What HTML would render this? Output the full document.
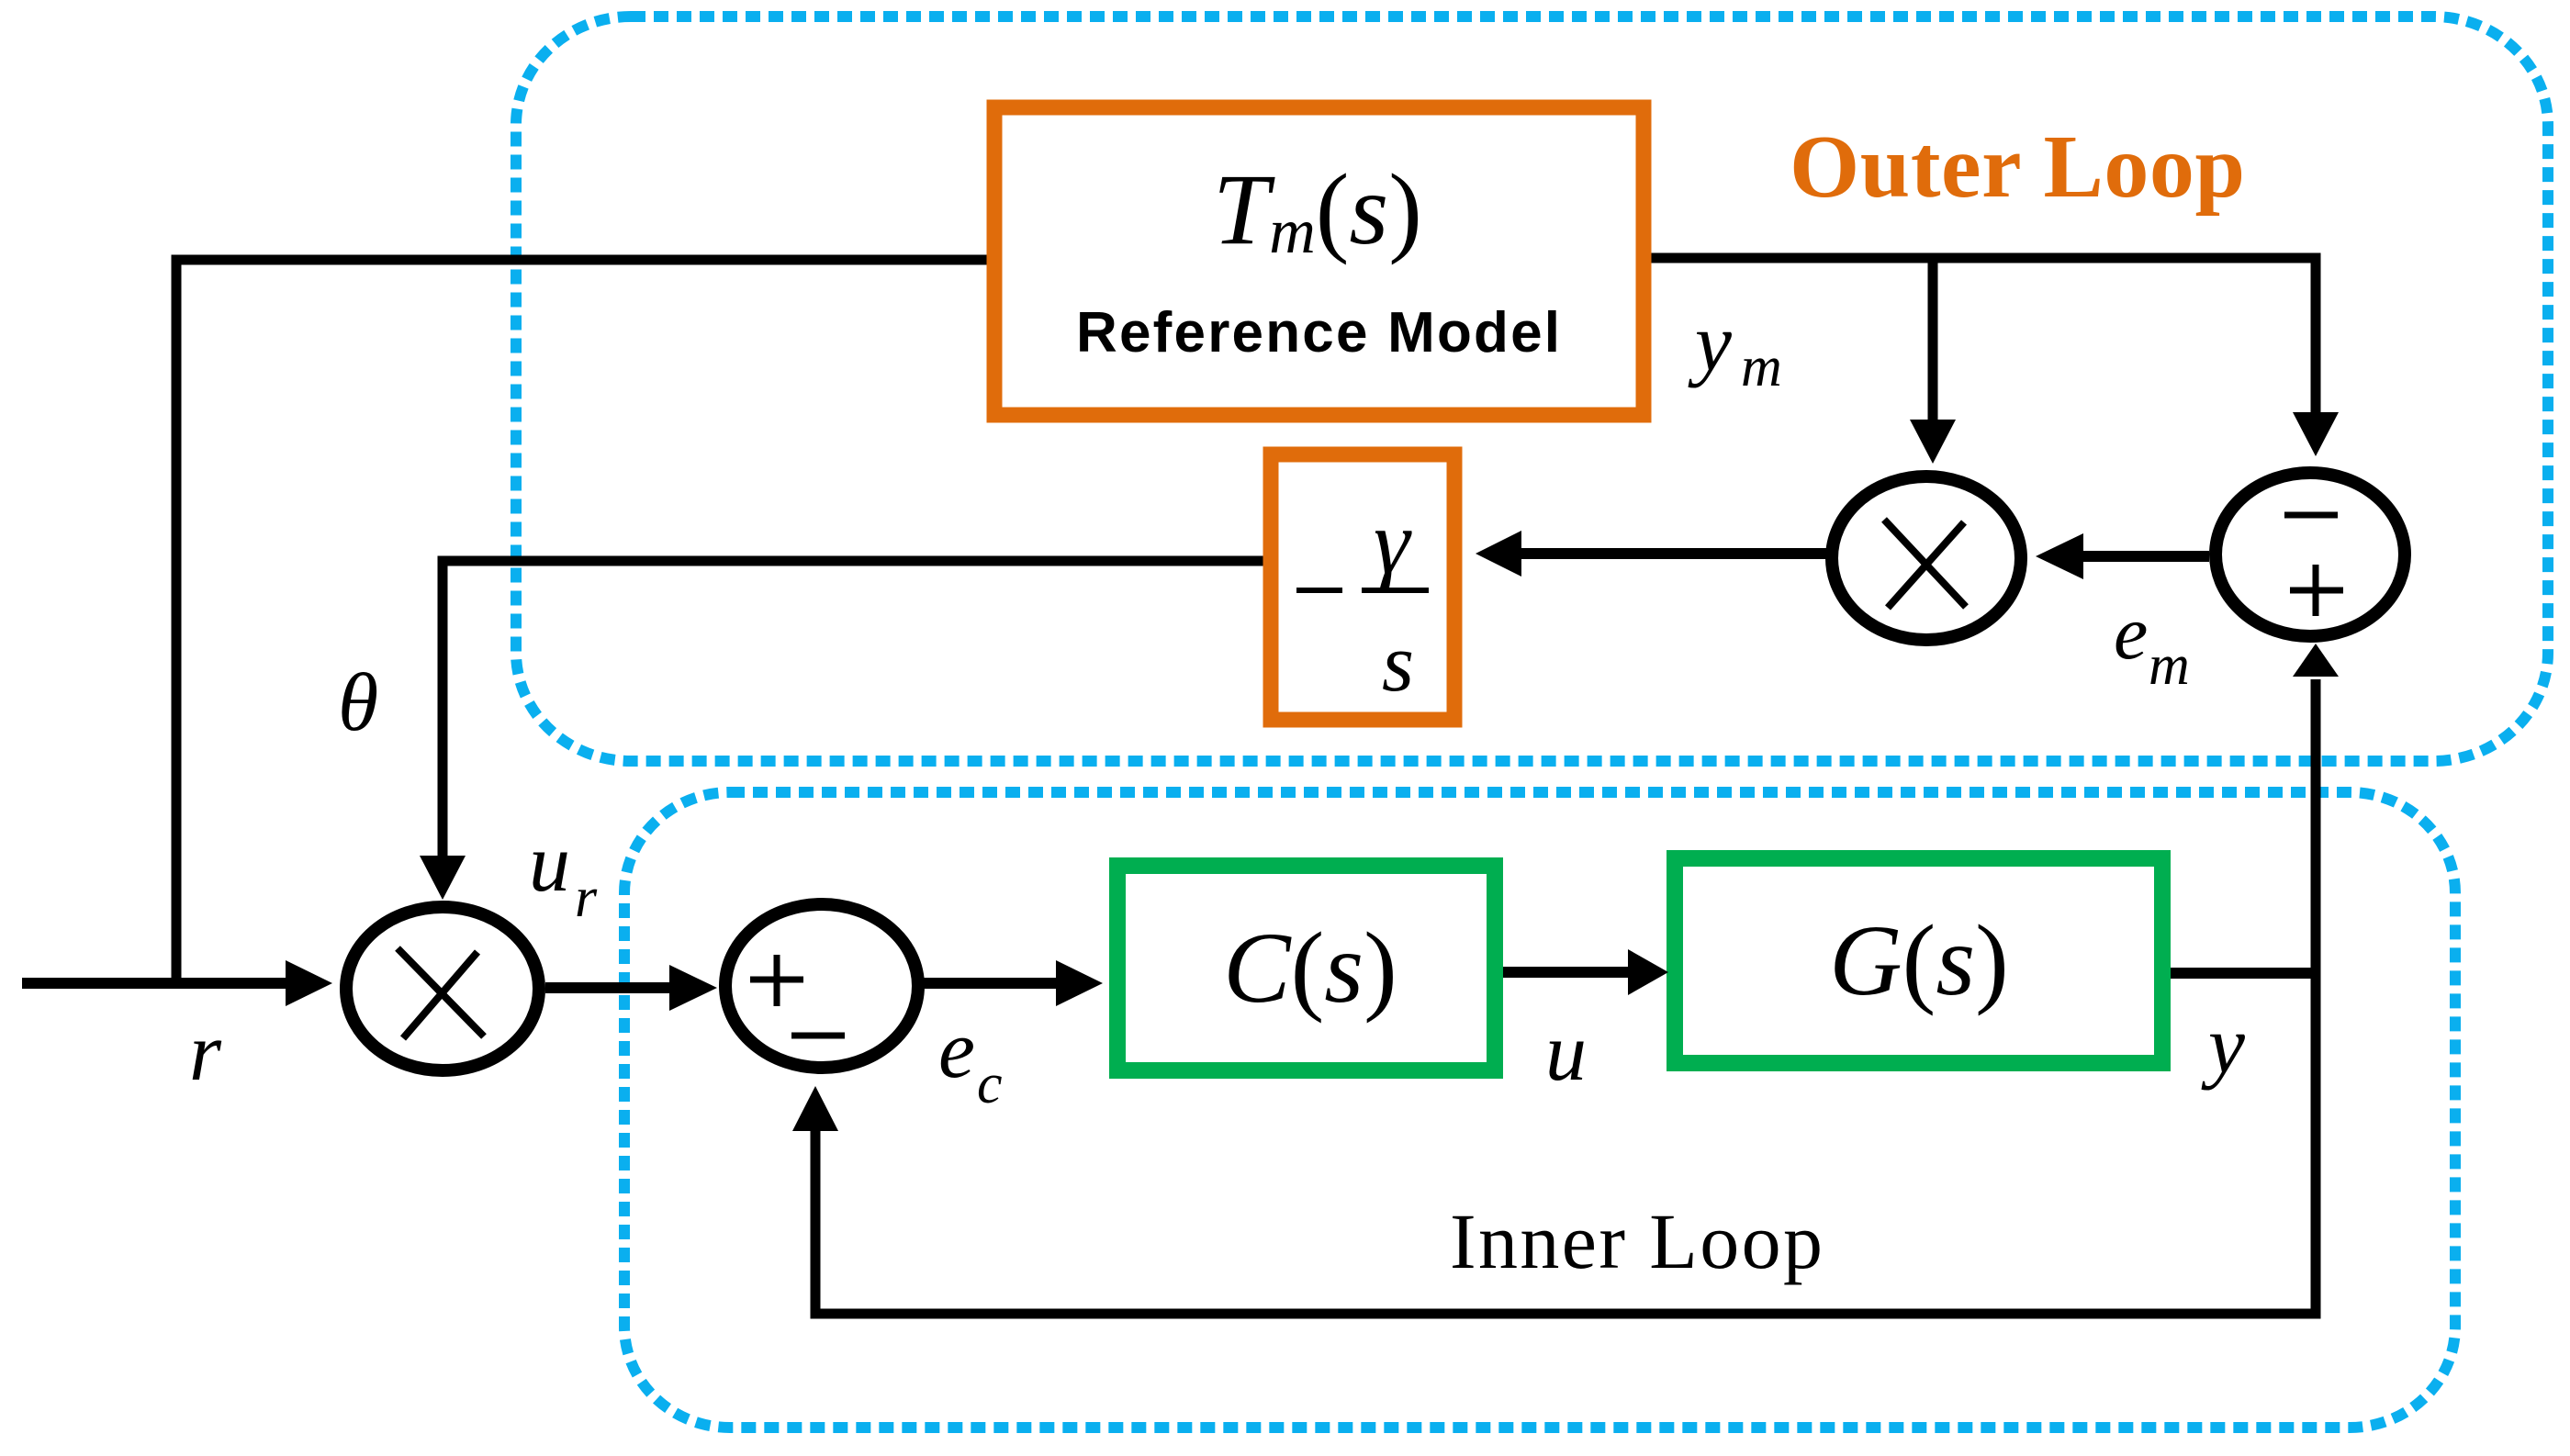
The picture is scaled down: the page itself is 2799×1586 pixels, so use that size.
<!DOCTYPE html>
<html><head><meta charset="utf-8"><style>
html,body{margin:0;padding:0;background:#fff;}
svg{display:block;}
.m{font-family:"Liberation Serif",serif;font-style:italic;fill:#000;}
.n{font-family:"Liberation Serif",serif;fill:#000;}
</style></head><body>
<svg width="2799" height="1586" viewBox="0 0 2799 1586" xmlns="http://www.w3.org/2000/svg">
<rect x="562" y="18" width="2213" height="811" rx="125" ry="118" fill="none" stroke="#0AAFEF" stroke-width="12" stroke-dasharray="16 9"/>
<rect x="680" y="863" width="1994" height="692" rx="115" ry="110" fill="none" stroke="#0AAFEF" stroke-width="12" stroke-dasharray="16 9"/>

<g stroke="#000" fill="none">
<line x1="24" y1="1071" x2="320" y2="1071" stroke-width="12"/>
<polyline points="192,1071 192,283 1083,283" stroke-width="11"/>
<polyline points="1383,611 482,611 482,940" stroke-width="11"/>
<line x1="594" y1="1076" x2="740" y2="1076" stroke-width="12"/>
<line x1="1006" y1="1071" x2="1160" y2="1071" stroke-width="12"/>
<line x1="1637" y1="1059" x2="1780" y2="1059" stroke-width="12"/>
<polyline points="2364,1060 2522,1060" stroke-width="12"/>
<polyline points="2522,740 2522,1431 888,1431 888,1225" stroke-width="11"/>
<polyline points="1798,281 2522,281 2522,455" stroke-width="11"/>
<line x1="2105" y1="281" x2="2105" y2="462" stroke-width="11"/>
<line x1="2406" y1="606" x2="2260" y2="606" stroke-width="12"/>
<line x1="1989" y1="603" x2="1650" y2="603" stroke-width="12"/>
<ellipse cx="482" cy="1077" rx="105" ry="89" stroke-width="14"/>
<ellipse cx="895" cy="1074" rx="105" ry="89" stroke-width="14"/>
<ellipse cx="2098" cy="608" rx="103" ry="89" stroke-width="14"/>
<ellipse cx="2516" cy="604" rx="103" ry="89" stroke-width="14"/>
<line x1="433" y1="1033" x2="527" y2="1129" stroke-width="8"/>
<line x1="520" y1="1037" x2="439" y2="1131" stroke-width="8"/>
<line x1="2052" y1="566" x2="2141" y2="661" stroke-width="8"/>
<line x1="2139" y1="569" x2="2056" y2="662" stroke-width="8"/>
<line x1="817" y1="1067" x2="875" y2="1067" stroke-width="7"/>
<line x1="846" y1="1040" x2="846" y2="1096" stroke-width="7"/>
<line x1="862" y1="1128" x2="920" y2="1128" stroke-width="7"/>
<line x1="2488" y1="561" x2="2546" y2="561" stroke-width="7"/>
<line x1="2494" y1="643" x2="2552" y2="643" stroke-width="7"/>
<line x1="2522" y1="615" x2="2522" y2="671" stroke-width="7"/>
<rect x="1083" y="117" width="707" height="335" stroke="#E06C0B" stroke-width="17"/>
<rect x="1384" y="495" width="200" height="289" stroke="#E06C0B" stroke-width="17"/>
<rect x="1217" y="943" width="411" height="223" stroke="#00AE50" stroke-width="18"/>
<rect x="1824" y="935" width="531" height="223" stroke="#00AE50" stroke-width="18"/>
<line x1="1412" y1="643" x2="1462" y2="643" stroke-width="6"/>
<line x1="1483" y1="643" x2="1556" y2="643" stroke-width="6"/>
</g>
<g fill="#000">
<polygon points="311,1046 362,1071 311,1096"/>
<polygon points="729,1051 781,1076 729,1101"/>
<polygon points="1150,1046 1201,1071 1150,1096"/>
<polygon points="1773,1034 1817,1059 1773,1084"/>
<polygon points="457,932 482,980 507,932"/>
<polygon points="863,1232 888,1183 913,1232"/>
<polygon points="2497,737 2522,701 2547,737"/>
<polygon points="2080,457 2105,505 2130,457"/>
<polygon points="2497,449 2522,497 2547,449"/>
<polygon points="2269,581 2217,606 2269,631"/>
<polygon points="1657,578 1607,603 1657,628"/>
</g>
<text x="1321" y="265" class="m" font-size="110">T<tspan font-size="70" dy="10">m</tspan><tspan class="n" font-style="normal" dy="-10">(</tspan>s<tspan class="n" font-style="normal">)</tspan></text>
<text x="1172" y="383" font-family="Liberation Sans, sans-serif" font-weight="bold" font-size="62" fill="#000" textLength="527">Reference Model</text>
<text x="1949" y="214" font-family="Liberation Serif, serif" font-weight="bold" font-size="98" fill="#E06C0B" textLength="496">Outer Loop</text>
<text x="1579" y="1381" class="n" font-size="86" textLength="406">Inner Loop</text>
<text x="1496" y="624" class="m" font-size="100">γ</text>
<text x="1505" y="752" class="m" font-size="90">s</text>
<text x="1846" y="403" class="m" font-size="90">y</text>
<text x="1896" y="420" class="m" font-size="62">m</text>
<text x="2302" y="717" class="m" font-size="84">e</text>
<text x="2340" y="745" class="m" font-size="62">m</text>
<text x="368" y="795" class="m" font-size="90">θ</text>
<text x="206" y="1176" class="m" font-size="90">r</text>
<text x="576" y="970" class="m" font-size="90">u</text>
<text x="626" y="998" class="m" font-size="62">r</text>
<text x="1022" y="1173" class="m" font-size="90">e</text>
<text x="1064" y="1201" class="m" font-size="62">c</text>
<text x="1683" y="1176" class="m" font-size="90">u</text>
<text x="2405" y="1168" class="m" font-size="90">y</text>
<text x="1427" y="1091" class="m" font-size="110" text-anchor="middle">C<tspan class="n" font-style="normal">(</tspan>s<tspan class="n" font-style="normal">)</tspan></text>
<text x="2090" y="1083" class="m" font-size="110" text-anchor="middle">G<tspan class="n" font-style="normal">(</tspan>s<tspan class="n" font-style="normal">)</tspan></text>
</svg>
</body></html>
